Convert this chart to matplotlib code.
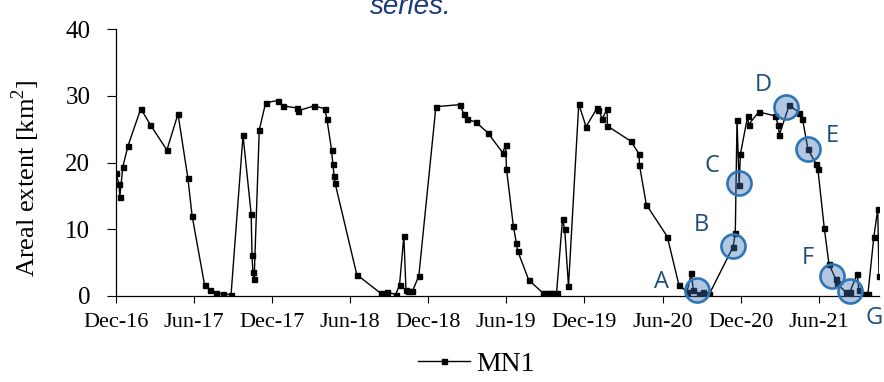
import pandas as pd
import matplotlib
matplotlib.use("Agg")
import matplotlib.pyplot as plt
import matplotlib.dates as mdates
from matplotlib.lines import Line2D

plt.rcParams['font.family'] = ['Liberation Serif', 'DejaVu Serif']
plt.rcParams['mathtext.fontset'] = 'custom'
plt.rcParams['mathtext.rm'] = 'Liberation Serif'

# MN1 areal extent time series
dates = [
    '2016-12-01', '2016-12-08', '2016-12-10', '2016-12-17', '2016-12-29', '2017-01-28',
    '2017-02-19', '2017-03-30', '2017-04-25', '2017-05-18', '2017-05-28', '2017-06-26',
    '2017-07-08', '2017-07-23', '2017-08-08', '2017-08-27', '2017-09-24', '2017-10-13',
    '2017-10-15', '2017-10-17', '2017-10-20', '2017-11-01', '2017-11-16', '2017-12-14',
    '2017-12-27', '2018-01-29', '2018-01-31', '2018-03-09', '2018-04-03', '2018-04-08',
    '2018-04-19', '2018-04-22', '2018-04-25', '2018-04-27', '2018-06-17', '2018-08-12',
    '2018-08-26', '2018-09-16', '2018-09-25', '2018-10-05', '2018-10-10', '2018-10-15',
    '2018-10-25', '2018-11-09', '2018-12-19', '2019-02-13', '2019-02-22', '2019-03-01',
    '2019-03-22', '2019-04-19', '2019-05-24', '2019-05-31', '2019-06-02', '2019-06-18',
    '2019-06-25', '2019-06-28', '2019-07-24', '2019-08-27', '2019-09-04', '2019-09-12',
    '2019-09-19', '2019-09-27', '2019-10-11', '2019-10-16', '2019-10-25', '2019-11-18',
    '2019-12-05', '2019-12-31', '2020-01-03', '2020-01-12', '2020-01-23', '2020-01-24',
    '2020-03-19', '2020-04-07', '2020-04-08', '2020-04-24', '2020-06-12', '2020-07-09',
    '2020-07-28', '2020-08-07', '2020-08-12', '2020-08-24', '2020-09-04', '2020-09-18',
    '2020-11-13', '2020-11-18', '2020-11-22', '2020-11-27', '2020-11-30', '2020-12-17',
    '2020-12-19', '2021-01-12', '2021-02-20', '2021-02-26', '2021-03-01', '2021-03-24',
    '2021-04-17', '2021-04-24', '2021-05-07', '2021-05-26', '2021-05-30', '2021-06-14',
    '2021-06-25', '2021-07-11', '2021-07-13', '2021-08-03', '2021-08-13', '2021-08-30',
    '2021-09-03', '2021-09-18', '2021-09-24', '2021-10-08', '2021-10-17', '2021-10-20',
]
mn1 = [
    18.4, 16.8, 14.9, 19.4, 22.5, 28.1,
    25.7, 21.9, 27.3, 17.7, 12.0, 1.7,
    0.95, 0.5, 0.3, 0.2, 24.1, 12.3,
    6.2, 3.6, 2.6, 24.9, 29.0, 29.3,
    28.5, 28.2, 27.8, 28.5, 28.1, 26.6,
    21.9, 19.8, 18.0, 17.0, 3.2, 0.4,
    0.65, 0.2, 1.7, 9.0, 0.9, 0.7,
    0.7, 3.0, 28.4, 28.7, 27.3, 26.5,
    26.1, 24.5, 21.5, 22.6, 19.1, 10.5,
    8.0, 6.8, 2.4, 0.4, 0.4, 0.4,
    0.4, 0.4, 11.5, 10.1, 1.5, 28.8,
    25.4, 28.2, 27.9, 26.6, 28.0, 25.5,
    23.2, 21.3, 19.6, 13.7, 8.9, 1.7,
    0.6, 3.4, 0.9, 0.25, 0.65, 0.25,
    7.4, 9.4, 26.4, 16.7, 21.3, 27.0,
    25.7, 27.6, 27.0, 25.7, 24.2, 28.6,
    27.5, 26.6, 22.0, 19.8, 19.1, 10.2,
    4.8, 2.5, 1.9, 0.6, 0.6, 3.3,
    0.9, 0.25, 0.25, 8.9, 13.0, 3.0,
]

# highlighted acquisitions
mark_labels = ['A', 'B', 'C', 'D', 'E', 'F', 'G']
mark_dates = ['2020-08-21', '2020-11-12', '2020-11-26', '2021-03-16',
              '2021-05-06', '2021-07-02', '2021-08-13']
mark_vals = [0.9, 7.5, 17.0, 28.4, 22.0, 3.0, 0.8]
label_offsets = [(-36, 8), (-31, 21), (-27, 17), (-22, 22), (25, 13), (-24, 18), (24, -27)]

tick_dates = pd.date_range('2016-12-01', periods=10, freq='6MS')
y_ticks = [0, 10, 20, 30, 40]

x = pd.to_datetime(dates)
mx = pd.to_datetime(mark_dates)

fig = plt.figure(figsize=(8.84, 3.82), dpi=100)
ax = fig.add_axes([116 / 884, 86 / 382, 763 / 884, 266.7 / 382])

ax.plot(x, mn1, color='black', lw=1.0, marker='s', markersize=3.6,
        markerfacecolor='black', markeredgecolor='black', zorder=3, clip_on=True)

ax.scatter(mx, mark_vals, s=300, facecolor=(0.25, 0.45, 0.72, 0.4),
           edgecolor='#2e75b6', linewidths=1.9, zorder=4, clip_on=False)
for lab, d, v, off in zip(mark_labels, mx, mark_vals, label_offsets):
    ax.annotate(lab, (d, v), xytext=off, textcoords='offset pixels',
                ha='center', va='center', fontsize=17, color='#1f4e79',
                family='Open Sans', annotation_clip=False, zorder=5)

ax.set_xlim(pd.Timestamp('2016-12-01'), pd.Timestamp('2021-10-20'))
ax.set_ylim(0, 40)
ax.set_xticks(tick_dates)
ax.xaxis.set_major_formatter(mdates.DateFormatter('%b-%y'))
ax.set_yticks(y_ticks)

for s in ['top', 'right']:
    ax.spines[s].set_visible(False)
for s in ['left', 'bottom']:
    ax.spines[s].set_linewidth(0.9)
    ax.spines[s].set_color('black')

ax.tick_params(axis='y', direction='out', length=6.5, width=0.8, pad=12, labelsize=18)
ax.tick_params(axis='x', direction='out', length=5, width=0.8, pad=7, labelsize=16)

fig.text(26 / 884, 1 - 178.5 / 382, 'Areal extent [km$^2$]', rotation=90,
         ha='center', va='center', fontsize=19)

fig.text(411 / 884, 1 - 14 / 382, 'series.', ha='center', va='baseline',
         fontsize=20, style='italic', color='#1a3a7a', family='Liberation Sans')

handle = Line2D([], [], color='black', lw=1.0, marker='s', markersize=3.6)
fig.legend([handle], ['MN1'], loc='center', bbox_to_anchor=(476 / 884, 1 - 364 / 382),
           frameon=False, fontsize=20, handlelength=1.9, handletextpad=0.2,
           borderpad=0, borderaxespad=0)

fig.savefig('out.png', dpi=100)
